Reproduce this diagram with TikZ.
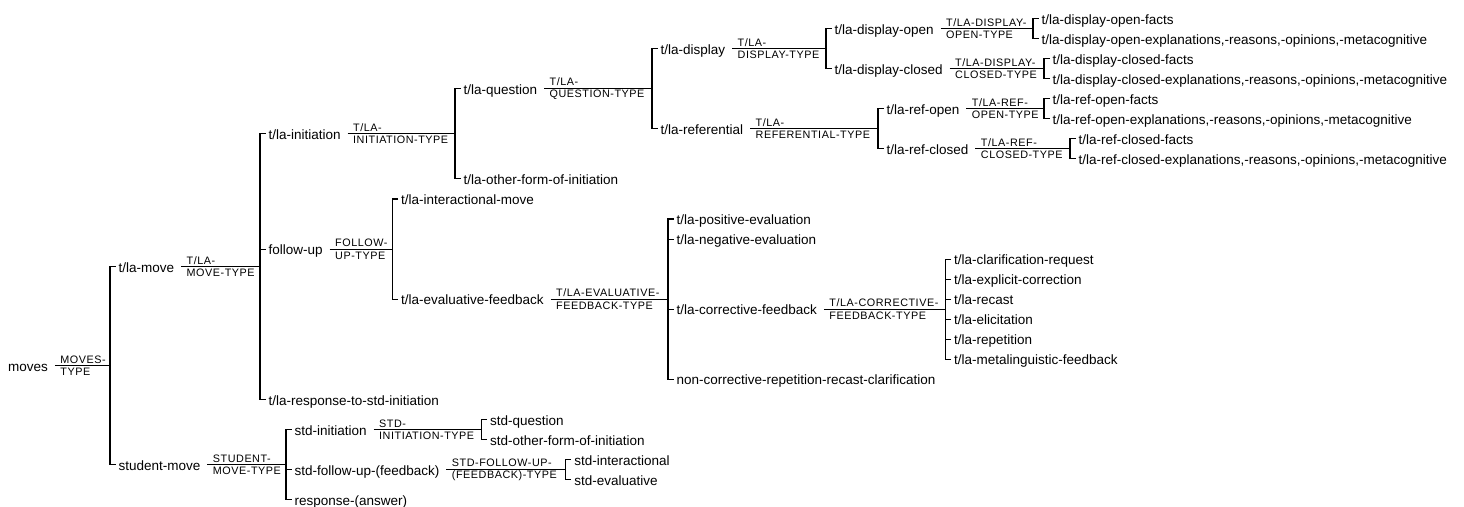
\documentclass[tikz,border=0pt]{standalone}
\usepackage{fontspec}
\setmainfont{Liberation Sans}
\newfontfamily\sysfam{Liberation Sans}[LetterSpace=5]
\usetikzlibrary{positioning,calc}
\newcommand\termfont{\fontsize{13.5}{16}\selectfont}
\newcommand\sysfont{\sysfam\fontsize{10.8}{12.4}\selectfont}
% one system: parent, x of its bracket, name, features
\newcommand\sysnet[4]{%
  \coordinate (#1-b) at (#2,0 |- #1);
  \node[sys] (#1-sys) at ([xshift=9pt]#1.east) {#3};
  \draw ([xshift=4pt]#1.east) -- (#1-b);
  \foreach \c in {#4} \draw (\c.west) -| (#1-b);}

\begin{document}
\begin{tikzpicture}[x=1pt,y=-1pt,line width=1.1pt,
  term/.style={anchor=west,inner sep=2.5pt,text height=11pt,text depth=0pt,font=\termfont},
  sys/.style={anchor=west,inner sep=0pt,align=left,font=\sysfont}]
  \useasboundingbox (0,0) rectangle (1464,506);

  \node[term] (moves) at (5,365.6) {moves};
  \node[term] (tlamove) at (115.5,266.6) {t/la-move};
  \node[term] (studentmove) at (115.5,464.6) {student-move};

  \node[term] (init) at (265.5,133.8) {t/la-initiation};
  \node[term] (followup) at (265.5,249.1) {follow-up};
  \node[term] (response) at (265.5,399.5) {t/la-response-to-std-initiation};

  \node[term] (question) at (460.5,88.7) {t/la-question};
  \node[term] (otherinit) at (460.5,178.9) {t/la-other-form-of-initiation};
  \node[term] (display) at (657.5,48.6) {t/la-display};
  \node[term] (referential) at (657.5,128.8) {t/la-referential};

  \node[term] (dopen) at (831.5,28.5) {t/la-display-open};
  \node[term] (dclosed) at (831.5,68.6) {t/la-display-closed};
  \node[term] (ropen) at (883.5,108.7) {t/la-ref-open};
  \node[term] (rclosed) at (883.5,148.8) {t/la-ref-closed};

  \node[term] (dopenfacts) at (1038.5,18.5) {t/la-display-open-facts};
  \node[term] (dopenexpl) at (1038.5,38.6) {t/la-display-open-explanations,-reasons,-opinions,-metacognitive};
  \node[term] (dclosedfacts) at (1049.5,58.6) {t/la-display-closed-facts};
  \node[term] (dclosedexpl) at (1049.5,78.7) {t/la-display-closed-explanations,-reasons,-opinions,-metacognitive};
  \node[term] (ropenfacts) at (1049.5,98.7) {t/la-ref-open-facts};
  \node[term] (ropenexpl) at (1049.5,118.8) {t/la-ref-open-explanations,-reasons,-opinions,-metacognitive};
  \node[term] (rclosedfacts) at (1075.5,138.8) {t/la-ref-closed-facts};
  \node[term] (rclosedexpl) at (1075.5,158.9) {t/la-ref-closed-explanations,-reasons,-opinions,-metacognitive};

  \node[term] (interact) at (398,199.0) {t/la-interactional-move};
  \node[term] (evalfb) at (398,299.2) {t/la-evaluative-feedback};
  \node[term] (positive) at (673.5,219.0) {t/la-positive-evaluation};
  \node[term] (negative) at (673.5,239.1) {t/la-negative-evaluation};
  \node[term] (corrective) at (673.5,309.2) {t/la-corrective-feedback};
  \node[term] (noncorr) at (673.5,379.4) {non-corrective-repetition-recast-clarification};

  \node[term] (clarif) at (951,259.1) {t/la-clarification-request};
  \node[term] (explicit) at (951,279.2) {t/la-explicit-correction};
  \node[term] (recast) at (951,299.2) {t/la-recast};
  \node[term] (elicit) at (951,319.3) {t/la-elicitation};
  \node[term] (repet) at (951,339.3) {t/la-repetition};
  \node[term] (metaling) at (951,359.4) {t/la-metalinguistic-feedback};

  \node[term] (stdinit) at (291.5,429.5) {std-initiation};
  \node[term] (stdfollow) at (291.5,469.6) {std-follow-up-(feedback)};
  \node[term] (stdresp) at (291.5,499.7) {response-(answer)};
  \node[term] (stdquestion) at (487,419.5) {std-question};
  \node[term] (stdother) at (487,439.6) {std-other-form-of-initiation};
  \node[term] (stdinteract) at (571.2,459.6) {std-interactional};
  \node[term] (stdeval) at (571.2,479.7) {std-evaluative};

  \sysnet{moves}{110}{MOVES-\\TYPE}{tlamove,studentmove}
  \sysnet{tlamove}{260}{T/LA-\\MOVE-TYPE}{init,followup,response}
  \sysnet{init}{455}{T/LA-\\INITIATION-TYPE}{question,otherinit}
  \sysnet{question}{652}{T/LA-\\QUESTION-TYPE}{display,referential}
  \sysnet{display}{826}{T/LA-\\DISPLAY-TYPE}{dopen,dclosed}
  \sysnet{referential}{878}{T/LA-\\REFERENTIAL-TYPE}{ropen,rclosed}
  \sysnet{dopen}{1033}{T/LA-DISPLAY-\\OPEN-TYPE}{dopenfacts,dopenexpl}
  \sysnet{dclosed}{1044}{T/LA-DISPLAY-\\CLOSED-TYPE}{dclosedfacts,dclosedexpl}
  \sysnet{ropen}{1044}{T/LA-REF-\\OPEN-TYPE}{ropenfacts,ropenexpl}
  \sysnet{rclosed}{1070}{T/LA-REF-\\CLOSED-TYPE}{rclosedfacts,rclosedexpl}
  \sysnet{followup}{392.5}{FOLLOW-\\UP-TYPE}{interact,evalfb}
  \sysnet{evalfb}{668}{T/LA-EVALUATIVE-\\FEEDBACK-TYPE}{positive,negative,corrective,noncorr}
  \sysnet{corrective}{945.5}{T/LA-CORRECTIVE-\\FEEDBACK-TYPE}{clarif,explicit,recast,elicit,repet,metaling}
  \sysnet{studentmove}{286}{STUDENT-\\MOVE-TYPE}{stdinit,stdfollow,stdresp}
  \sysnet{stdinit}{481.5}{STD-\\INITIATION-TYPE}{stdquestion,stdother}
  \sysnet{stdfollow}{565.7}{STD-FOLLOW-UP-\\(FEEDBACK)-TYPE}{stdinteract,stdeval}
\end{tikzpicture}
\end{document}
